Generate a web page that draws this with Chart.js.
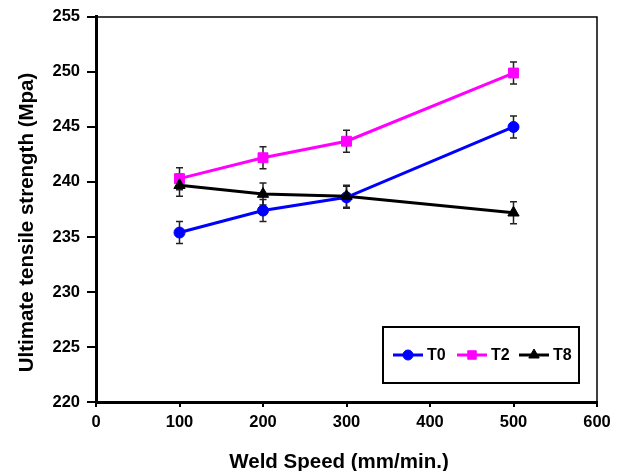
<!DOCTYPE html>
<html>
<head>
<meta charset="utf-8">
<script src="https://cdn.jsdelivr.net/npm/chart.js@4/dist/chart.umd.min.js"></script>
<style>
html,body{margin:0;padding:0;background:#fff;}
#wrap{width:625px;height:471px;position:relative;}
</style>
</head>
<body>
<div id="wrap"><canvas id="c" width="625" height="471"></canvas></div>
<script>
const weldSpeeds = [100, 200, 300, 500];
const t0Values = [235.4, 237.4, 238.6, 245.0];
const t2Values = [240.3, 242.2, 243.7, 249.9];
const t8Values = [239.7, 238.9, 238.7, 237.2];
const t0Errors = [1.0, 1.0, 1.0, 1.0];
const t2Errors = [1.0, 1.0, 1.0, 1.0];
const t8Errors = [1.0, 1.0, 1.0, 1.0];
const seriesLabels = ['T0', 'T2', 'T8'];
const xTitle = 'Weld Speed (mm/min.)';
const yTitle = 'Ultimate tensile strength (Mpa)';

const FONT = '"Liberation Sans", Arial, sans-serif';

function pts(vals){ return weldSpeeds.map((x,i)=>({x:x,y:vals[i]})); }

const errorBarPlugin = {
  id: 'errorBars',
  beforeDatasetsDraw(chart){
    const ctx = chart.ctx;
    const xs = chart.scales.x, ys = chart.scales.y;
    ctx.save();
    ctx.strokeStyle = '#222';
    ctx.lineWidth = 1.5;
    chart.data.datasets.forEach(ds=>{
      ds.data.forEach((p,i)=>{
        const e = ds.errors[i];
        const px = xs.getPixelForValue(p.x);
        const yt = ys.getPixelForValue(p.y + e);
        const yb = ys.getPixelForValue(p.y - e);
        ctx.beginPath();
        ctx.moveTo(px, yt); ctx.lineTo(px, yb);
        ctx.moveTo(px-3.5, yt); ctx.lineTo(px+3.5, yt);
        ctx.moveTo(px-3.5, yb); ctx.lineTo(px+3.5, yb);
        ctx.stroke();
      });
    });
    ctx.restore();
  }
};

const legendMarkerRadius = [5, 6, 6];

const framePlugin = {
  id: 'frame',
  afterDraw(chart){
    const ctx = chart.ctx, a = chart.chartArea;
    ctx.save();
    ctx.strokeStyle = '#000';
    ctx.lineWidth = 1.5;
    ctx.beginPath();
    ctx.moveTo(a.left, a.top); ctx.lineTo(a.right, a.top); ctx.lineTo(a.right, a.bottom);
    ctx.stroke();

    // axis titles
    ctx.fillStyle = '#000';
    ctx.font = 'bold 20.5px ' + FONT;
    ctx.textBaseline = 'alphabetic';
    ctx.textAlign = 'center';
    ctx.fillText(xTitle, 339, 468);
    ctx.save();
    ctx.translate(32.5, 222.5);
    ctx.rotate(-Math.PI/2);
    ctx.fillText(yTitle, 0, 0);
    ctx.restore();

    // legend box
    const bx = 383, by = 327, bw = 196, bh = 56;
    ctx.fillStyle = '#fff';
    ctx.fillRect(bx, by, bw, bh);
    ctx.strokeStyle = '#000';
    ctx.lineWidth = 2;
    ctx.strokeRect(bx, by, bw, bh);
    const cy = by + bh/2;
    const starts = [393, 457, 519];
    chart.data.datasets.forEach((ds, i)=>{
      const x0 = starts[i];
      ctx.strokeStyle = ds.borderColor;
      ctx.lineWidth = 3;
      ctx.beginPath(); ctx.moveTo(x0, cy); ctx.lineTo(x0+30, cy); ctx.stroke();
      ctx.fillStyle = ds.borderColor;
      ctx.lineWidth = 1;
      Chart.helpers.drawPoint(ctx, {pointStyle: ds.pointStyle, radius: legendMarkerRadius[i], borderWidth: 1}, x0+15, cy);
      ctx.fillStyle = '#000';
      ctx.font = 'bold 16px ' + FONT;
      ctx.textBaseline = 'middle';
      ctx.textAlign = 'left';
      ctx.fillText(ds.label, x0+34, cy+1);
    });
    ctx.restore();
  }
};

function mkDs(label, vals, errs, color, style, r, order){
  return {
    label: label, data: pts(vals), errors: errs,
    borderColor: color, backgroundColor: color,
    pointBackgroundColor: color, pointBorderColor: color,
    pointStyle: style, pointRadius: r, pointHoverRadius: r, pointBorderWidth: 1,
    borderWidth: 3, tension: 0, order: order
  };
}

new Chart(document.getElementById('c'), {
  type: 'line',
  data: {
    datasets: [
      mkDs(seriesLabels[0], t0Values, t0Errors, '#0000FF', 'circle', 5.5, 2),
      mkDs(seriesLabels[1], t2Values, t2Errors, '#FF00FF', 'rect', 7, 1),
      mkDs(seriesLabels[2], t8Values, t8Errors, '#000000', 'triangle', 6.5, 0)
    ]
  },
  options: {
    responsive: false,
    animation: false,
    devicePixelRatio: 1,
    layout: { padding: { left: 8, top: 16, right: 28, bottom: 0 } },
    plugins: { legend: { display: false }, tooltip: { enabled: false } },
    scales: {
      x: {
        type: 'linear', min: 0, max: 600,
        afterFit(s){ s.height = 471 - 402; },
        ticks: { stepSize: 100, color: '#000', padding: 6, font: { family: FONT, size: 16.5, weight: 'bold' } },
        grid: { drawOnChartArea: false, drawTicks: true, tickLength: 5, color: '#000', lineWidth: 2 },
        border: { display: true, color: '#000', width: 3 },
        title: { display: false }
      },
      y: {
        min: 220, max: 255,
        afterFit(s){ s.width = 96 - 8; },
        ticks: { stepSize: 5, color: '#000', padding: 7, font: { family: FONT, size: 16.5, weight: 'bold' } },
        grid: { drawOnChartArea: false, drawTicks: true, tickLength: 9, color: '#000', lineWidth: 2 },
        border: { display: true, color: '#000', width: 3 },
        title: { display: false }
      }
    }
  },
  plugins: [errorBarPlugin, framePlugin]
});
</script>
</body>
</html>
